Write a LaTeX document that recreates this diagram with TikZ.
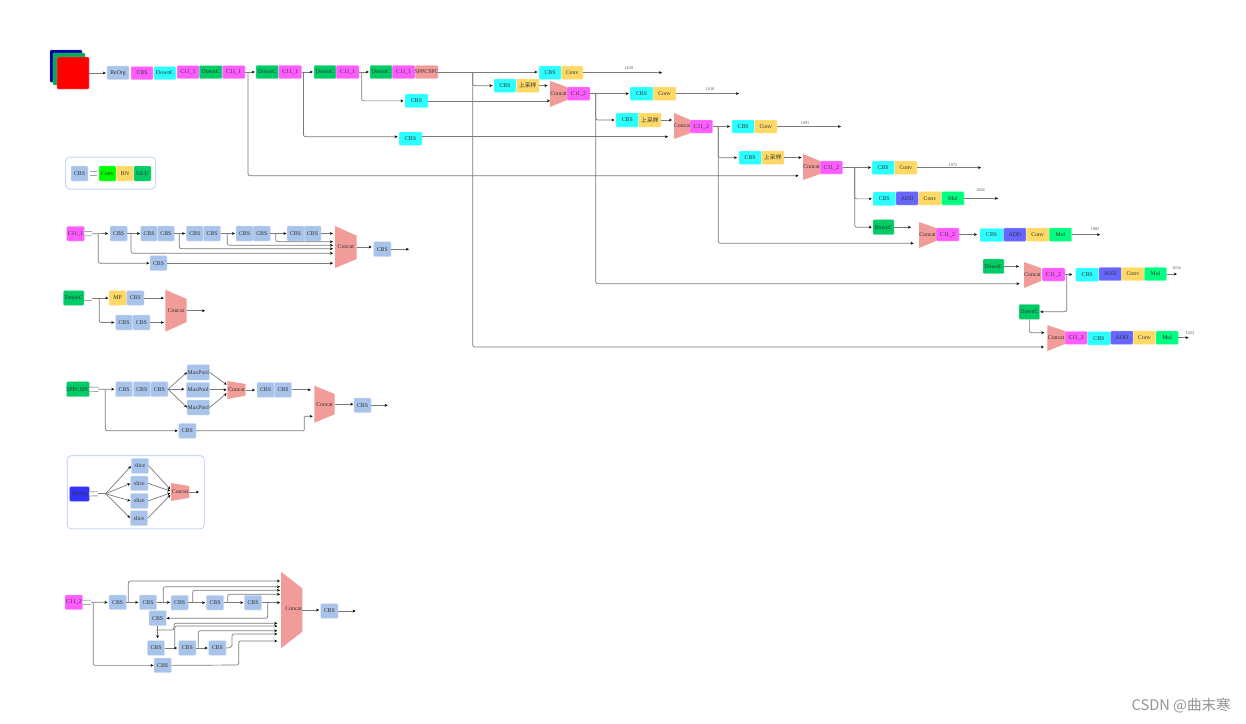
\documentclass[tikz,border=0pt]{standalone}
\usepackage{fontspec}
\setmainfont{Liberation Serif}
\newfontfamily\cjk{Noto Sans CJK SC}
\usetikzlibrary{arrows.meta,calc}
\definecolor{cblue}{HTML}{A9C4EB}
\definecolor{cmag}{HTML}{FF5CFF}
\definecolor{ccyan}{HTML}{2BFFFF}
\definecolor{cgreen}{HTML}{00CC66}
\definecolor{cyel}{HTML}{FFD966}
\definecolor{ccoral}{HTML}{F19C99}
\definecolor{cadd}{HTML}{6666FF}
\definecolor{cmul}{HTML}{00FF80}
\definecolor{croy}{HTML}{3333FF}
\definecolor{cframe}{HTML}{C9DAF5}
\definecolor{cline}{HTML}{7A7A7A}
\definecolor{ctxt}{HTML}{303030}
\tikzset{
  boxn/.style={rectangle,rounded corners=1pt,inner sep=0pt,outer sep=0pt,line width=.3pt,draw=white!55!#1,fill=#1,text=ctxt,font=\fontsize{5.8}{6}\selectfont},
  frameb/.style={rectangle,rounded corners=4pt,inner sep=0pt,outer sep=0pt,line width=1pt,draw=cframe},
  ccnode/.style={rectangle,inner sep=0pt,outer sep=0pt,text=ctxt,font=\fontsize{5.8}{6}\selectfont},
  arr/.style={draw=cline,line width=.7pt,rounded corners=2pt,-{Stealth[length=3pt,width=2.8pt,black]}},
  plainl/.style={draw=cline,line width=.7pt,rounded corners=2pt},
  eqs/.style={draw=black!35,double=white,double distance=3.2pt,line width=.9pt},
  lab/.style={inner sep=0pt,text=black!65,font=\fontsize{4.3}{5}\selectfont},
}
\newcommand\bx[7]{\node[boxn=#2,minimum width={(#5-(#3))*1pt},minimum height={(#6-(#4))*1pt}] (#1) at ({(#3+#5)/2},{(#4+#6)/2}) {\makebox[0pt][c]{#7}};}
% [text prefix] name x1 x2 ytl ybl ytr ybr
\newcommand\cct[8][\relax]{\fill[ccoral] (#3,#5) -- (#4,#7) -- (#4,#8) -- (#3,#6) -- cycle;
  \node[ccnode,minimum width={(#4-(#3))*1pt},minimum height={(#6-(#5))*1pt}] (#2) at ({(#3+#4)/2},{(#5+#6)/2}) {\makebox[0pt][c]{#1{Concat}}};}
\newcommand\hc[3][1.2pt]{\draw[arr,shorten >=#1] (#2.east) -- (#2.east -| #3.west);}
\newcommand\up{{\cjk 上采样}}
\begin{document}
\begin{tikzpicture}[x=1pt,y=-1pt]
\useasboundingbox (0,0) rectangle (1246,723);
\fill[white] (0,0) rectangle (1246,723);
% image stack
\bx{imgb}{blue!65!black}{50}{50}{82}{82}{}
\bx{imgg}{cgreen!85!black}{53}{53}{85}{85}{}
\bx{imgr}{red}{57}{57}{89}{89}{}
% concats
\cct{ca}{550}{567}{81}{107}{87}{100}
\cct{cb}{674}{690.5}{113}{139}{120}{133}
\cct{cc}{803}{820}{154}{180}{161}{174}
\cct{cd}{919}{936}{222}{248}{228}{241}
\cct{ce}{1024}{1041}{262}{288}{268}{281}
\cct{cf}{1047.3}{1065}{325}{351}{331}{344}
% top row
\bx{raorg}{cblue}{107}{66}{129}{79.5}{ReOrg}
\bx{t1}{cmag}{131}{66.5}{153}{79.5}{CBS}
\bx{t2}{ccyan}{154}{66.5}{176}{79.5}{DownC}
\bx{t3}{cmag}{177}{65.5}{199}{78.5}{C11\_1}
\bx{t4}{cgreen}{199.3}{65.5}{222}{78.5}{DownC}
\bx{t5}{cmag}{222.3}{65.5}{245}{78.5}{C11\_1}
\bx{t6}{cgreen}{256}{65.3}{278.3}{78.7}{DownC}
\bx{t7}{cmag}{278.7}{65.3}{301.5}{78.7}{C11\_1}
\bx{t8}{cgreen}{314}{65.3}{336}{78.7}{DownC}
\bx{t9}{cmag}{336.2}{65.3}{359}{78.7}{C11\_1}
\bx{t10}{cgreen}{370}{65.3}{392}{78.7}{DownC}
\bx{t11}{cmag}{392.2}{65.3}{415}{78.7}{C11\_1}
\bx{t12}{ccoral}{415.3}{65.3}{438}{78.7}{SPPCSPC}
\bx{s1}{ccyan}{405}{94}{428}{107.7}{CBS}
\bx{s2}{ccyan}{399}{132}{422}{145.3}{CBS}
% head 1
\bx{h1a}{ccyan}{539}{66}{561}{79.3}{CBS}
\bx{h1b}{cyel}{561.3}{66}{583}{79.3}{Conv}
\bx{u1a}{ccyan}{494}{79}{516}{92.3}{CBS}
\bx{u1b}{cyel}{516.5}{79}{539}{92.3}{\up}
\bx{m1}{cmag}{567}{87}{590}{100.3}{C11\_2}
\bx{h2a}{ccyan}{630}{87}{653}{100.3}{CBS}
\bx{h2b}{cyel}{653.2}{87}{676}{100.3}{Conv}
\bx{u2a}{ccyan}{616}{113}{638.5}{127}{CBS}
\bx{u2b}{cyel}{638.8}{113}{661}{127}{\up}
\bx{m2}{cmag}{690}{120}{712.7}{133}{C11\_2}
\bx{h3a}{ccyan}{732}{120}{754.3}{133}{CBS}
\bx{h3b}{cyel}{754.6}{120}{777}{133}{Conv}
\bx{u3a}{ccyan}{739}{151}{761.3}{164.3}{CBS}
\bx{u3b}{cyel}{761.7}{151}{784}{164.3}{\up}
\bx{m3}{cmag}{820}{161}{842.7}{174}{C11\_2}
\bx{h4a}{ccyan}{872}{161}{894.3}{174.3}{CBS}
\bx{h4b}{cyel}{894.7}{161}{917}{174.3}{Conv}
\bx{h5a}{ccyan}{873}{192}{895.7}{205.7}{CBS}
\bx{h5b}{cadd}{896}{191.7}{918.3}{205}{ADD}
\bx{h5c}{cyel}{918.7}{191.7}{941.3}{205}{Conv}
\bx{h5d}{cmul}{941.7}{191.7}{964}{205}{Mul}
\bx{d1}{cgreen}{873}{219.7}{894}{234.7}{DownC}
\bx{m4}{cmag}{936}{228}{959}{241}{C11\_2}
\bx{h6a}{ccyan}{980}{228.3}{1003.3}{241.7}{CBS}
\bx{h6b}{cadd}{1003.7}{228}{1026}{241.3}{ADD}
\bx{h6c}{cyel}{1026.3}{228}{1049}{241.3}{Conv}
\bx{h6d}{cmul}{1049.2}{228}{1071.7}{241.3}{Mul}
\bx{d2}{cgreen}{983}{259}{1004}{273.7}{DownC}
\bx{m5}{cmag}{1042}{268}{1065}{281}{C11\_2}
\bx{h7a}{ccyan}{1075.7}{268}{1098.7}{281.3}{CBS}
\bx{h7b}{cadd}{1099}{267.3}{1121.3}{280.7}{ADD}
\bx{h7c}{cyel}{1121.7}{267.3}{1144}{280.7}{Conv}
\bx{h7d}{cmul}{1144.3}{267.3}{1166.7}{280.7}{Mul}
\bx{d3}{cgreen}{1019}{304.3}{1039.7}{319.3}{DownC}
\bx{m6}{cmag}{1065}{331.3}{1087.3}{344.3}{C11\_2}
\bx{h8a}{ccyan}{1087.5}{331.7}{1110.3}{345}{CBS}
\bx{h8b}{cadd}{1110.7}{331}{1133}{344.3}{ADD}
\bx{h8c}{cyel}{1133.3}{331}{1155.7}{344.3}{Conv}
\bx{h8d}{cmul}{1156}{331}{1178.3}{344.3}{Mul}
% top connectors
\hc{imgr}{raorg}
\hc{t5}{t6}
\hc{t7}{t8}
\hc{t9}{t10}
\coordinate (j1) at (248,72);
\coordinate (j2) at (303.5,72);
\coordinate (j3) at (361.7,72);
\coordinate (j4) at (472.7,72);
\coordinate (j5) at (595.7,93.5);
\coordinate (j6) at (718.3,126.5);
\coordinate (j7) at (854.7,167.5);
\coordinate (i1) at (798.5,175.7);
\coordinate (i2) at (668,136.7);
\coordinate (i3) at (1044,347);
\coordinate (i4) at (1019.5,283.7);
\coordinate (i5) at (913.5,243.3);
\draw[arr] (j1) |- (i1);
\draw[arr,shorten >=1.5pt] (j2) |- (s2.west |- i2);
\draw[arr,shorten >=1.5pt] (j3) |- (s1.west);
\draw[arr] (j4) |- (i3);
\draw[arr,shorten >=1.5pt] (j4) |- (u1a.west);
\draw[arr] (s1.east) -- (s1.east -| ca.west);
\draw[arr] (s2.east |- i2) -- (i2);
\draw[arr,shorten >=1.5pt] (t12.east) -- (t12.east -| h1a.west);
\hc[2.5pt]{u1b}{ca}
\hc{m1}{h2a}
\draw[arr] (j5) |- (i4);
\draw[arr,shorten >=1.5pt] (j5) |- (u2a.west);
\hc[2pt]{u2b}{cb}
\hc[2pt]{m2}{h3a}
\draw[arr] (j6) |- (i5);
\draw[arr,shorten >=2pt] (j6) |- (u3a.west);
\hc[1.5pt]{u3b}{cc}
\hc[1pt]{m3}{h4a}
\draw[arr,shorten >=1.2pt] (j7) |- (h5a.west);
\draw[arr,shorten >=1.2pt] (j7) |- (d1.west);
\hc[8pt]{d1}{cd}
\hc[3pt]{m4}{h6a}
\hc[5pt]{d2}{ce}
\hc[3.5pt]{m5}{h7a}
\coordinate (j8) at (1066.7,274.5);
\draw[arr,shorten >=.5pt] (j8) |- (d3.east);
\draw[arr,shorten >=3pt] (d3.south) |- (cf.west |- 0,332.7);
% outputs
\coordinate (o1) at (662,72.7);
\coordinate (o2) at (739,93.5);
\coordinate (o3) at (841,126.5);
\coordinate (o4) at (981,167.5);
\coordinate (o5) at (998,198.3);
\coordinate (o6) at (1100,234.7);
\coordinate (o7) at (1177,274);
\coordinate (o8) at (1188.5,337.7);
\draw[arr] (h1b.east) -- (h1b.east -| o1);
\draw[arr] (h2b.east) -- (h2b.east -| o2);
\draw[arr] (h3b.east) -- (h3b.east -| o3);
\draw[arr] (h4b.east) -- (h4b.east -| o4);
\draw[arr] (h5d.east) -- (h5d.east -| o5);
\draw[arr] (h6d.east) -- (h6d.east -| o6);
\draw[arr] (h7d.east) -- (h7d.east -| o7);
\draw[arr] (h8d.east) -- (h8d.east -| o8);
\node[lab] (l1) at (629,68.5) {1629};
\node[lab] (l2) at (710,89.5) {1610};
\node[lab] (l3) at (805,123) {1091};
\node[lab] (l4) at (953,165.5) {1072};
\node[lab] (l5) at (980.5,190.5) {1064};
\node[lab] (l6) at (1095,229.5) {1083};
\node[lab] (l7) at (1176.5,268.5) {1054};
\node[lab] (l8) at (1190,333.5) {1023};
% legend
\node[frameb,minimum width=90pt,minimum height=32pt] (fr1) at (110.7,173) {};
\bx{g0}{cblue}{71}{166}{88}{181}{CBS}
\bx{g1}{green}{99}{166}{116}{181}{Conv}
\bx{g2}{cyel}{116.3}{166}{133.7}{181}{BN}
\bx{g3}{cgreen}{134}{166}{151}{181}{SiLU}
\coordinate (gqa) at (90,173.5);
\coordinate (gqb) at (97.3,173.5);
\draw[eqs] (gqa) -- (gqb);
% C11_1 block
\bx{a0}{cmag}{66.7}{226.3}{84.3}{241}{C11\_1}
\bx{a1}{cblue}{110}{226}{127.3}{241}{CBS}
\bx{a2}{cblue}{140.7}{226}{157.3}{241}{CBS}
\bx{a3}{cblue}{157.5}{226}{174.3}{241}{CBS}
\bx{a4}{cblue}{186.3}{226}{203.3}{241}{CBS}
\bx{a5}{cblue}{203.5}{226}{220.7}{241}{CBS}
\bx{a6}{cblue}{236}{226}{253}{241}{CBS}
\bx{a7}{cblue}{253.2}{226}{270.3}{241}{CBS}
\bx{a8}{cblue}{287}{226}{304}{241}{CBS}
\bx{a9}{cblue}{304.2}{226}{321}{241}{CBS}
\bx{a10}{cblue}{150}{255.7}{167}{270.7}{CBS}
\bx{a11}{cblue}{373.7}{241.7}{391}{256.7}{CBS}
\cct{ac}{335}{356.7}{226}{268}{235.7}{259}
\coordinate (aq) at (92,233.7);
\coordinate (a_j0) at (98.3,233.7);
\coordinate (a_j1) at (131,233.7);
\coordinate (a_j2) at (179.3,233.7);
\coordinate (a_j3) at (227.3,233.7);
\coordinate (a_j4) at (275.7,233.7);
\coordinate (a_e1) at (333,241.7);
\coordinate (a_e2) at (333,245.3);
\coordinate (a_e3) at (333,248.7);
\coordinate (a_e4) at (333,253.3);
\coordinate (a_out) at (409,249.2);
\draw[eqs] (a0.east) -- (aq);
\draw[arr,shorten >=2pt] (aq) -- (a1.west);
\hc[.8pt]{a1}{a2}
\hc[1.2pt]{a3}{a4}
\hc[1pt]{a5}{a6}
\hc[.5pt]{a7}{a8}
\hc[2pt]{a9}{ac}
\draw[arr,shorten >=.7pt] (a_j0) |- (a10.west);
\hc[2pt]{a10}{ac}
\draw[arr] (a_j1) |- (a_e4);
\draw[arr] (a_j2) |- (a_e3);
\draw[arr] (a_j3) |- (a_e2);
\draw[arr] (a_j4) |- (a_e1);
\draw[arr,shorten >=2pt] (ac.east) -- (ac.east -| a11.west);
\draw[arr] (a11.east) -- (a11.east -| a_out);
% DownC block
\bx{b0}{cgreen}{63.3}{290.7}{84}{305.3}{DownC}
\bx{b1}{cyel}{109}{290.7}{126.3}{305.3}{MP}
\bx{b2}{cblue}{126.7}{290.7}{144}{305.3}{CBS}
\bx{b3}{cblue}{115.7}{315}{132.5}{330}{CBS}
\bx{b4}{cblue}{132.8}{315}{150}{330}{CBS}
\cct[\raisebox{-2pt}]{bc}{165.3}{186.7}{289.7}{331.7}{299}{322}
\coordinate (bq) at (92,298);
\coordinate (b_j) at (99.3,298);
\coordinate (b_out) at (205,310.5);
\draw[eqs] (b0.east) -- (bq);
\draw[arr,shorten >=.7pt] (bq) -- (b1.west);
\draw[arr,shorten >=1.4pt] (b_j) |- (b3.west);
\hc[1.5pt]{b2}{bc}
\hc[1.5pt]{b4}{bc}
\draw[arr] (bc.east) -- (bc.east -| b_out);
% SPPCSPC block
\bx{c0}{cgreen}{66.7}{381.7}{89.3}{396.7}{SPPCSPC}
\bx{c1}{cblue}{115.7}{381.7}{132.7}{396.7}{CBS}
\bx{c2}{cblue}{133.3}{381.7}{150.3}{396.7}{CBS}
\bx{c3}{cblue}{150.7}{381.7}{168}{396.7}{CBS}
\bx{mp1}{cblue}{187}{364.7}{209.7}{380}{MaxPool}
\bx{mp2}{cblue}{186.3}{382.3}{209.7}{397.3}{MaxPool}
\bx{mp3}{cblue}{187}{400}{209.7}{415}{MaxPool}
\cct{c_s}{227.3}{245.7}{381}{399}{384}{395.7}
\bx{c4}{cblue}{257}{382.3}{274.2}{397.3}{CBS}
\bx{c5}{cblue}{274.4}{382.3}{291.7}{397.3}{CBS}
\cct[\raisebox{-1pt}]{c_b}{314.3}{334.7}{385.7}{422.7}{394}{414.3}
\bx{c6}{cblue}{354}{398}{371}{412.7}{CBS}
\bx{c7}{cblue}{178.7}{423.3}{196}{438.3}{CBS}
\coordinate (cq) at (98.5,389.3);
\coordinate (c_j) at (105.3,389.3);
\coordinate (c_e1) at (226.7,384.7);
\coordinate (c_e3) at (226.7,393.3);
\coordinate (c_e4) at (312.7,416.3);
\coordinate (c_k) at (304.3,430.8);
\coordinate (c_out) at (387.7,405.3);
\draw[eqs] (c0.east) -- (cq);
\draw[arr,shorten >=1.4pt] (cq) -- (c1.west);
\draw[arr] (c3.east) -- (mp1.west);
\hc[2pt]{c3}{mp2}
\draw[arr] (c3.east) -- (mp3.west);
\draw[arr] (mp1.east) -- (c_e1);
\hc[.7pt]{mp2}{c_s}
\draw[arr] (mp3.east) -- (c_e3);
\draw[arr,shorten >=2pt] (c_s.east) -- (c_s.east -| c4.west);
\hc[3.5pt]{c5}{c_b}
\draw[arr,shorten >=1pt] (c_j) |- (c7.west);
\draw[arr,rounded corners=1pt] (c7.east) -- (c_k) -- (c_k |- c_e4) -- (c_e4);
\draw[arr,shorten >=.7pt] (c_b.east) -- (c_b.east -| c6.west);
\draw[arr] (c6.east) -- (c6.east -| c_out);
% ReOrg block
\node[frameb,minimum width=137pt,minimum height=73.3pt] (fr2) at (135.8,492.3) {};
\bx{d0}{croy}{69.7}{486.7}{89.3}{501.3}{ReOrg}
\bx{sl1}{cblue}{131.3}{458.3}{148.7}{473.3}{slice}
\bx{sl2}{cblue}{130.7}{476}{148}{490.7}{slice}
\bx{sl3}{cblue}{130.7}{493.3}{148}{508.7}{slice}
\bx{sl4}{cblue}{130.3}{510.7}{147.7}{525.7}{slice}
\cct{d_c}{171}{189.3}{483}{501}{486}{497.7}
\coordinate (dq) at (98,493.7);
\coordinate (d_j) at (105.7,493.7);
\coordinate (d_e1) at (170.3,489.3);
\coordinate (d_e2) at (170.3,491);
\coordinate (d_e3) at (170.3,493);
\coordinate (d_e4) at (170.3,495);
\coordinate (d_out) at (199,492.3);
\draw[eqs] (d0.east) -- (dq);
\draw[plainl] (dq) -- (d_j);
\draw[arr,shorten >=.5pt] (d_j) -- (sl1.west);
\draw[arr,shorten >=.5pt] (d_j) -- (sl2.west);
\draw[arr,shorten >=.5pt] (d_j) -- (sl3.west);
\draw[arr,shorten >=.5pt] (d_j) -- (sl4.west);
\draw[arr] (sl1.east) -- (d_e1);
\draw[arr] (sl2.east) -- (d_e2);
\draw[arr] (sl3.east) -- (d_e3);
\draw[arr] (sl4.east) -- (d_e4);
\draw[arr] (d_c.east) -- (d_c.east -| d_out);
% C11_2 block
\bx{e0}{cmag}{65}{595}{82.7}{609.7}{C11\_2}
\bx{e1}{cblue}{109}{595}{126.3}{609.7}{CBS}
\bx{e2}{cblue}{139.3}{595}{156.7}{609.7}{CBS}
\bx{e3}{cblue}{171}{595.3}{188.3}{610}{CBS}
\bx{e4}{cblue}{206.3}{595.3}{223.7}{610}{CBS}
\bx{e5}{cblue}{244.3}{595.3}{261.7}{610}{CBS}
\bx{e6}{cblue}{149}{610.7}{166.3}{625.7}{CBS}
\bx{e7}{cblue}{147.3}{640.7}{164.7}{655.3}{CBS}
\bx{e8}{cblue}{178.7}{640.7}{196}{655.3}{CBS}
\bx{e9}{cblue}{208.7}{640.7}{226}{655.3}{CBS}
\bx{e10}{cblue}{154}{658}{171.3}{672.7}{CBS}
\bx{e11}{cblue}{320.7}{603.7}{338}{618.3}{CBS}
\cct[\hspace{4pt}\raisebox{3pt}]{ec}{281}{302.3}{571.7}{648.3}{588.3}{631.7}
\coordinate (eq) at (91,602.3);
\coordinate (e_j0) at (93.3,602.3);
\coordinate (e_j1) at (128.3,602.3);
\coordinate (e_j2) at (163.3,602.3);
\coordinate (e_j3) at (192.7,602.7);
\coordinate (e_j4) at (227.7,602.7);
\coordinate (e_j5) at (267.7,602.5);
\coordinate (e_j6) at (156,630);
\coordinate (e_k6) at (174,630);
\coordinate (e_j7) at (174.7,647.5);
\coordinate (e_j8) at (198.3,647.5);
\coordinate (e_k9) at (232,647.5);
\coordinate (e_k10) at (238.7,665);
\coordinate (t_1) at (280,581);
\coordinate (t_2) at (280,586.7);
\coordinate (t_3) at (280,590.3);
\coordinate (t_4) at (280,594.3);
\coordinate (t_5) at (277.3,623.3);
\coordinate (t_6) at (277.3,626);
\coordinate (t_7) at (277.3,630.7);
\coordinate (t_8) at (277.3,634);
\coordinate (t_9) at (277.3,641);
\coordinate (e_out) at (355.7,611);
\draw[eqs] (e0.east) -- (eq);
\draw[arr,shorten >=1.5pt] (eq) -- (e1.west);
\hc[1pt]{e1}{e2}
\hc[1pt]{e2}{e3}
\hc[1.2pt]{e3}{e4}
\hc[1pt]{e4}{e5}
\hc[1pt]{e5}{ec}
\draw[arr] (e_j1) |- (t_1);
\draw[arr] (e_j2) |- (t_2);
\draw[arr] (e_j3) |- (t_3);
\draw[arr] (e_j4) |- (t_4);
\draw[arr,shorten >=.3pt] (e_j5) |- (e6.east);
\draw[arr,shorten >=2.5pt] (e6.south) -- (e6.south |- e7.north);
\draw[arr] (e_j6) -- (e_k6) -- (e_k6 |- t_5) -- (t_5);
\hc[1.5pt]{e7}{e8}
\hc[1pt]{e8}{e9}
\draw[arr] (e_j7) |- (t_6);
\draw[arr] (e_j8) |- (t_7);
\draw[arr] (e9.east) -- (e_k9) -- (e_k9 |- t_8) -- (t_8);
\draw[arr,shorten >=.5pt] (e_j0) |- (e10.west);
\draw[arr] (e10.east) -- (e_k10) -- (e_k10 |- t_9) -- (t_9);
\draw[arr,shorten >=1.5pt] (ec.east) -- (ec.east -| e11.west);
\draw[arr] (e11.east) -- (e11.east -| e_out);
% watermark
\node[inner sep=0pt,anchor=east,text=black!42,font={\cjk\fontsize{14.6}{16}\selectfont}] (wm) at (1231,706) {CSDN @曲末寒};
\end{tikzpicture}
\end{document}
